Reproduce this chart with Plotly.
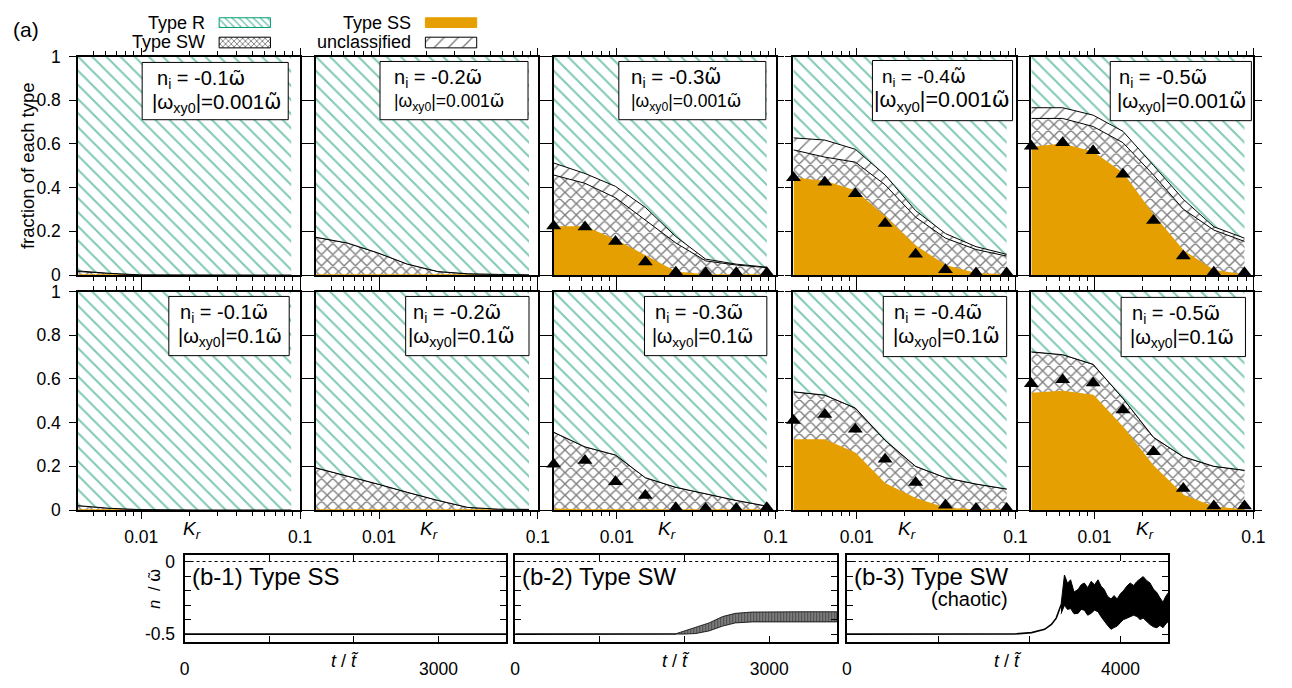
import numpy as np
import plotly.graph_objects as go

W, H = 1292, 688
FONT = "Liberation Sans, Arial, sans-serif"
GREEN = "#009e73"
GREEN_HATCH = "#00916a"
ORANGE = "#e69f00"
OMT = '<span style="font-family:DejaVu Sans">ω̃</span>'

# ---------------- data ----------------
Kr = [0.004, 0.0063, 0.0098, 0.0151, 0.0235, 0.0362, 0.0564, 0.0879]
ni_text = ["-0.1", "-0.2", "-0.3", "-0.4", "-0.5"]
wxy_text = ["0.001", "0.1"]

# row 1 : |w_xy0| = 0.001 ; columns n_i = -0.1 ... -0.5  (fractions of each type)
ss_row1 = [
    [0, 0, 0, 0, 0, 0, 0, 0],
    [0, 0, 0, 0, 0, 0, 0, 0],
    [0.22, 0.22, 0.16, 0.087, 0.013, 0, 0, 0],
    [0.443, 0.428, 0.384, 0.265, 0.132, 0.043, 0.006, 0],
    [0.584, 0.599, 0.561, 0.465, 0.273, 0.11, 0.02, 0],
]
sw_row1 = [
    [0.016, 0.007, 0.001, 0, 0, 0, 0, 0],
    [0.173, 0.147, 0.102, 0.05, 0.016, 0.006, 0.003, 0.001],
    [0.238, 0.20, 0.194, 0.163, 0.134, 0.065, 0.046, 0.034],
    [0.13, 0.112, 0.133, 0.148, 0.133, 0.126, 0.111, 0.087],
    [0.133, 0.118, 0.119, 0.141, 0.185, 0.192, 0.186, 0.154],
]
uc_row1 = [
    [0.003, 0.001, 0, 0, 0, 0, 0, 0],
    [0, 0, 0, 0, 0, 0, 0, 0],
    [0.055, 0.045, 0.052, 0.06, 0.029, 0.008, 0.004, 0.002],
    [0.055, 0.078, 0.059, 0.045, 0.03, 0.021, 0.013, 0.008],
    [0.049, 0.049, 0.052, 0.052, 0.044, 0.045, 0.015, 0.015],
]
tri_row1 = [
    None,
    None,
    [0.224, 0.22, 0.154, 0.06, 0.013, 0.01, 0.01, 0.01],
    [0.446, 0.425, 0.372, 0.236, 0.095, 0.024, 0.009, 0.009],
    [0.59, 0.606, 0.569, 0.461, 0.25, 0.087, 0.013, 0.01],
]

# row 2 : |w_xy0| = 0.1
ss_row2 = [
    [0, 0, 0, 0, 0, 0, 0, 0],
    [0, 0, 0, 0, 0, 0, 0, 0],
    [0.004, 0, 0, 0, 0, 0, 0, 0],
    [0.321, 0.321, 0.259, 0.119, 0.052, 0.007, 0, 0],
    [0.533, 0.542, 0.524, 0.378, 0.2, 0.067, 0.013, 0],
]
sw_row2 = [
    [0.02, 0.008, 0.002, 0, 0, 0, 0, 0],
    [0.193, 0.156, 0.119, 0.081, 0.044, 0.012, 0.004, 0.003],
    [0.352, 0.289, 0.252, 0.148, 0.104, 0.074, 0.044, 0.018],
    [0.22, 0.205, 0.208, 0.2, 0.148, 0.141, 0.119, 0.096],
    [0.191, 0.169, 0.143, 0.133, 0.133, 0.177, 0.187, 0.182],
]
uc_row2 = [
    [0, 0, 0, 0, 0, 0, 0, 0],
    [0, 0, 0, 0, 0, 0, 0, 0],
    [0, 0, 0, 0, 0, 0, 0, 0],
    [0, 0, 0, 0, 0, 0, 0, 0],
    [0, 0, 0, 0, 0, 0, 0, 0],
]
tri_row2 = [
    None,
    None,
    [0.21, 0.227, 0.129, 0.067, 0.01, 0.007, 0.007, 0.01],
    [0.41, 0.437, 0.37, 0.233, 0.126, 0.022, 0.007, 0.007],
    [0.578, 0.596, 0.582, 0.458, 0.267, 0.098, 0.018, 0.018],
]

# (b) time series of n / w~
b1_t = [0, 3800]
b1_n = [-0.5, -0.5]

b2_t_line = [0, 1000, 1600, 1900]
b2_n_line = [-0.5, -0.5, -0.5, -0.499]
b2_t_env = [1900, 2000, 2135, 2290, 2450, 2600, 2800, 3000, 3200, 3400, 3600, 3800]
b2_up = [-0.497, -0.478, -0.456, -0.423, -0.379, -0.357, -0.348, -0.346, -0.346, -0.346, -0.346, -0.346]
b2_lo = [-0.5, -0.5, -0.496, -0.478, -0.445, -0.423, -0.416, -0.416, -0.416, -0.416, -0.416, -0.416]

b3_t_line = [0, 2000, 2450, 2700, 2890, 2990, 3060, 3130]
b3_n_line = [-0.5, -0.5, -0.499, -0.49, -0.467, -0.434, -0.39, -0.30]
b3_t_env = [3130, 3180, 3225, 3270, 3320, 3380, 3425, 3470, 3520, 3570, 3620, 3670, 3715, 3760, 3810,
            3860, 3905, 3950, 4000, 4040, 4090, 4140, 4190, 4240, 4285, 4330, 4380, 4430, 4480,
            4530, 4575, 4620, 4660, 4700]
b3_up = [-0.30, -0.093, -0.15, -0.126, -0.21, -0.192, -0.16, -0.148, -0.18, -0.137, -0.16, -0.126,
         -0.17, -0.192, -0.24, -0.258, -0.235, -0.258, -0.22, -0.203, -0.17, -0.148, -0.165, -0.137,
         -0.12, -0.104, -0.13, -0.148, -0.19, -0.214, -0.25, -0.28, -0.24, -0.214]
b3_lo = [-0.36, -0.302, -0.33, -0.324, -0.36, -0.357, -0.33, -0.335, -0.37, -0.357, -0.335, -0.346,
         -0.38, -0.412, -0.44, -0.467, -0.455, -0.445, -0.42, -0.401, -0.39, -0.379, -0.37, -0.379,
         -0.4, -0.39, -0.41, -0.434, -0.45, -0.456, -0.44, -0.456, -0.43, -0.412]

# ---------------- layout geometry (pixels) ----------------
COL_LEFT = [74, 315, 556, 799, 1040]
ROW_TOP = [48, 290]
PW, PH = 225, 225
B_LEFT = [182, 517, 853]
B_W = 326
B_TOP, B_H = 561, 90
B_XMAX = [3800, 3800, 4700]

# text boxes (left, top, right, bottom), text sizes and text offsets
BOX = [
    [(139, 54, 287, 113), (380, 53, 530, 113), (622, 53, 771, 113), (879, 52, 1021, 114), (1120, 53, 1263, 114)],
    [(166, 295, 288, 356), (406, 295, 531, 356), (648, 295, 772, 356), (890, 295, 1015, 357), (1131, 296, 1257, 357)],
]
L1_SIZE = [[20, 20, 20.5, 19, 20], [20, 20, 20, 20, 20]]
L2_SIZE = [[20.5, 17.5, 17.5, 21.5, 20.5], [20, 20.5, 19.5, 20.5, 20]]
L1_DX = [[13, 12, 10, 8, 7], [9, 5, 9, 9, 9]]
L2_DX = [[8, 12, 10, 0, 5], [7, 0, 6, 8, 7]]


def fx(px):
    return px / W


def fy(py):
    return 1 - py / H


fig = go.Figure()
layout = dict(
    autosize=True, margin=dict(l=0, r=0, t=0, b=0, pad=0),
    paper_bgcolor="white", plot_bgcolor="rgba(0,0,0,0)", showlegend=False,
    font=dict(family=FONT, size=17, color="black"),
)
annotations = []
shapes = []


def axname(i):
    return ("xaxis" if i == 1 else f"xaxis{i}"), ("yaxis" if i == 1 else f"yaxis{i}")


def ref(i):
    return ("x" if i == 1 else f"x{i}"), ("y" if i == 1 else f"y{i}")


minor_vals = [0.005, 0.006, 0.007, 0.008, 0.009, 0.02, 0.03, 0.04, 0.05, 0.06, 0.07, 0.08, 0.09]

PAT_SW = dict(shape="x", fgcolor="black", bgcolor="white", size=8, solidity=0.32)
PAT_UC = dict(shape="/", fgcolor="black", bgcolor="white", size=10, solidity=0.14)
PAT_R = dict(shape="\\", fgcolor=GREEN_HATCH, bgcolor="white", size=10, solidity=0.2)

rows = [(ss_row1, sw_row1, uc_row1, tri_row1), (ss_row2, sw_row2, uc_row2, tri_row2)]
for r in range(2):
    ss_all, sw_all, uc_all, tri_all = rows[r]
    for c in range(5):
        i = r * 5 + c + 1
        xk, yk = axname(i)
        xr, yr = ref(i)
        left, top = COL_LEFT[c], ROW_TOP[r]
        layout[xk] = dict(
            domain=[fx(left), fx(left + PW)], type="log", range=[np.log10(0.004), -1],
            tickvals=[0.01, 0.1], ticktext=["0.01", "0.1"], showticklabels=(r == 1),
            ticks="outside", ticklen=7, tickwidth=1, tickcolor="black", mirror="allticks",
            showline=True, linecolor="black", linewidth=1.5, showgrid=False, zeroline=False,
            minor=dict(ticks="outside", ticklen=4, tickwidth=1, tickcolor="black",
                       tickvals=minor_vals, showgrid=False),
            anchor=yr, tickfont=dict(size=17.5), ticklabelstandoff=3, fixedrange=True,
        )
        layout[yk] = dict(
            domain=[fy(top + PH), fy(top)], range=[0, 1],
            tickvals=[0, 0.2, 0.4, 0.6, 0.8, 1], ticktext=["0", "0.2", "0.4", "0.6", "0.8", "1"],
            showticklabels=(c == 0), ticks="outside", ticklen=7, tickwidth=1, tickcolor="black",
            mirror="allticks", showline=True, linecolor="black", linewidth=1.5,
            showgrid=False, zeroline=False, anchor=xr, tickfont=dict(size=17.5),
            ticklabelstandoff=5, fixedrange=True,
        )
        ss = np.array(ss_all[c], dtype=float)
        sw = np.array(sw_all[c], dtype=float)
        uc = np.array(uc_all[c], dtype=float)
        top_ss = ss
        top_sw = ss + sw
        top_uc = top_sw + uc
        common = dict(x=Kr, xaxis=xr, yaxis=yr, hoverinfo="skip", showlegend=False)
        fig.add_trace(go.Scatter(y=[0] * len(Kr), mode="lines", line=dict(width=0, color=ORANGE), **common))
        fig.add_trace(go.Scatter(y=top_ss, mode="lines", fill="tonexty", fillcolor=ORANGE,
                                 line=dict(color=ORANGE, width=1.5), **common))
        fig.add_trace(go.Scatter(y=top_sw, mode="lines", fill="tonexty", fillpattern=PAT_SW,
                                 line=dict(color="black", width=1), **common))
        fig.add_trace(go.Scatter(y=top_uc, mode="lines", fill="tonexty", fillpattern=PAT_UC,
                                 line=dict(color="black", width=1), **common))
        fig.add_trace(go.Scatter(y=[1] * len(Kr), mode="lines", fill="tonexty", fillpattern=PAT_R,
                                 line=dict(width=0, color=GREEN), **common))
        if tri_all[c] is not None:
            fig.add_trace(go.Scatter(y=tri_all[c], mode="markers", cliponaxis=False,
                                     marker=dict(symbol="triangle-up", size=13, color="black"), **common))
        # text box
        bl, bt, br, bb = BOX[r][c]
        shapes.append(dict(type="rect", xref="paper", yref="paper", x0=fx(bl), x1=fx(br), y0=fy(bb), y1=fy(bt),
                           fillcolor="white", line=dict(color="black", width=1), layer="above"))
        annotations.append(dict(xref="paper", yref="paper", x=fx(bl + L1_DX[r][c]), y=fy(bt + 17.5),
                                xanchor="left", yanchor="middle", showarrow=False,
                                text=f"n<sub>i</sub> = {ni_text[c]}{OMT}", font=dict(size=L1_SIZE[r][c])))
        annotations.append(dict(xref="paper", yref="paper", x=fx(bl + L2_DX[r][c]), y=fy(bt + 42),
                                xanchor="left", yanchor="middle", showarrow=False,
                                text=f"|ω<sub>xy0</sub>|={wxy_text[r]}{OMT}", font=dict(size=L2_SIZE[r][c])))
        if r == 1:
            annotations.append(dict(xref="paper", yref="paper", x=fx(left + 115), y=fy(536), xanchor="center",
                                    yanchor="middle", showarrow=False, text="<i>K<sub>r</sub></i>",
                                    font=dict(size=19)))

# ---------------- (b) panels ----------------
b_series = [
    [(b1_t, b1_n)],
    [(b2_t_line, b2_n_line)],
    [(b3_t_line, b3_n_line)],
]
b_env = [None, (b2_t_env, b2_up, b2_lo), (b3_t_env, b3_up, b3_lo)]
b_label = ["(b-1) Type SS", "(b-2) Type SW", "(b-3) Type SW"]
b_xticks = [[0, 1000, 2000, 3000], [0, 1000, 2000, 3000], [0, 4000 / 3, 8000 / 3, 4000]]
b_xtext = [["0", "", "", "3000"], ["0", "", "", "3000"], ["0", "", "", "4000"]]
for k in range(3):
    i = 11 + k
    xk, yk = axname(i)
    xr, yr = ref(i)
    left = B_LEFT[k]
    layout[xk] = dict(
        domain=[fx(left), fx(left + B_W)], range=[0, B_XMAX[k]], tickvals=b_xticks[k], ticktext=b_xtext[k],
        ticks="inside", ticklen=6, tickwidth=1, tickcolor="black", mirror="allticks", showline=True,
        linecolor="black", linewidth=2, showgrid=False, zeroline=False, anchor=yr,
        tickfont=dict(size=17.5), ticklabelstandoff=10, fixedrange=True,
    )
    layout[yk] = dict(
        domain=[fy(B_TOP + B_H), fy(B_TOP)], range=[-0.555, 0.047],
        tickvals=[-0.5, -0.4, -0.3, -0.2, -0.1, 0], ticktext=["-0.5", "", "", "", "", "0"],
        showticklabels=(k == 0), ticks="inside", ticklen=6, tickwidth=1, tickcolor="black",
        mirror="allticks", showline=True, linecolor="black", linewidth=2, showgrid=False,
        zeroline=False, anchor=xr, tickfont=dict(size=17.5), ticklabelstandoff=4, fixedrange=True,
    )
    fig.add_trace(go.Scatter(x=[0, B_XMAX[k]], y=[0, 0], mode="lines", xaxis=xr, yaxis=yr,
                             line=dict(color="black", width=1, dash="dot"), hoverinfo="skip"))
    for (tt, nn) in b_series[k]:
        fig.add_trace(go.Scatter(x=tt, y=nn, mode="lines", xaxis=xr, yaxis=yr,
                                 line=dict(color="black", width=1.6), hoverinfo="skip"))
    if b_env[k] is not None:
        te, up, lo = b_env[k]
        xs = list(te) + list(te)[::-1]
        ys = list(up) + list(lo)[::-1]
        if k == 1:
            fig.add_trace(go.Scatter(x=xs, y=ys, mode="lines", fill="toself", xaxis=xr, yaxis=yr,
                                     fillpattern=dict(shape="|", fgcolor="black", bgcolor="#9a9a9a", size=3, solidity=0.6),
                                     line=dict(color="black", width=0.8), hoverinfo="skip"))
        else:
            fig.add_trace(go.Scatter(x=xs, y=ys, mode="lines", fill="toself", fillcolor="black", xaxis=xr,
                                     yaxis=yr, line=dict(color="black", width=1), hoverinfo="skip"))
    annotations.append(dict(xref="paper", yref="paper", x=fx(left + 5), y=fy(583), xanchor="left",
                            yanchor="middle", showarrow=False, text=b_label[k], font=dict(size=24)))
    annotations.append(dict(xref="paper", yref="paper", x=fx(left + B_W / 2), y=fy(671), xanchor="center",
                            yanchor="middle", showarrow=False, text="<i>t</i> / <i>t̃</i>", font=dict(size=18)))
annotations.append(dict(xref="paper", yref="paper", x=fx(936), y=fy(607), xanchor="left", yanchor="middle",
                        showarrow=False, text="(chaotic)", font=dict(size=20)))
annotations.append(dict(xref="paper", yref="paper", x=fx(152), y=fy(596), xanchor="center", yanchor="middle",
                        showarrow=False, text=f"<i>n</i>  / {OMT}", textangle=-90, font=dict(size=16)))

# ---------------- global labels ----------------
annotations.append(dict(xref="paper", yref="paper", x=fx(23), y=fy(160), xanchor="center", yanchor="middle",
                        showarrow=False, text="fraction of each type", textangle=-90, font=dict(size=18.5)))
annotations.append(dict(xref="paper", yref="paper", x=fx(6), y=fy(20), xanchor="left", yanchor="middle",
                        showarrow=False, text="(a)", font=dict(size=21)))

# legend (custom, drawn on an overlay axis in pixel units)
layout["xaxis14"] = dict(domain=[0, 1], range=[0, W], visible=False, fixedrange=True, anchor="y14")
layout["yaxis14"] = dict(domain=[0, 1], range=[H, 0], visible=False, fixedrange=True, anchor="x14")
legend_items = [
    ("Type R", 205, 13, 217, 8, 269, 18, dict(shape="\\", fgcolor=GREEN_HATCH, bgcolor="white", size=5, solidity=0.3), GREEN),
    ("Type SW", 205, 33, 217, 28, 269, 39, dict(shape="x", fgcolor="black", bgcolor="white", size=4, solidity=0.4), "black"),
    ("Type SS", 413, 13, 426, 8, 478, 18, None, ORANGE),
    ("unclassified", 413, 33, 426, 28, 478, 39, dict(shape="/", fgcolor="black", bgcolor="white", size=10, solidity=0.14), "black"),
]
for (txt, tx, ty, x0, y0, x1, y1, pat, col) in legend_items:
    kw = dict(x=[x0, x1, x1, x0, x0], y=[y0, y0, y1, y1, y0], mode="lines", fill="toself",
              xaxis="x14", yaxis="y14", hoverinfo="skip", line=dict(color=col, width=1))
    if pat is None:
        kw["fillcolor"] = ORANGE
    else:
        kw["fillpattern"] = pat
    fig.add_trace(go.Scatter(**kw))
    annotations.append(dict(xref="paper", yref="paper", x=fx(tx), y=fy(ty), xanchor="right", yanchor="middle",
                            showarrow=False, text=txt, font=dict(size=18)))

layout["annotations"] = annotations
layout["shapes"] = shapes
fig.update_layout(**layout)
fig.write_html(
    "out.html",
    config={"displayModeBar": False, "responsive": False},
    default_width=f"{W}px",
    default_height=f"{H}px; position:absolute; left:0; top:0",
    post_script="document.body.style.margin='0';document.body.style.overflow='hidden';",
)
